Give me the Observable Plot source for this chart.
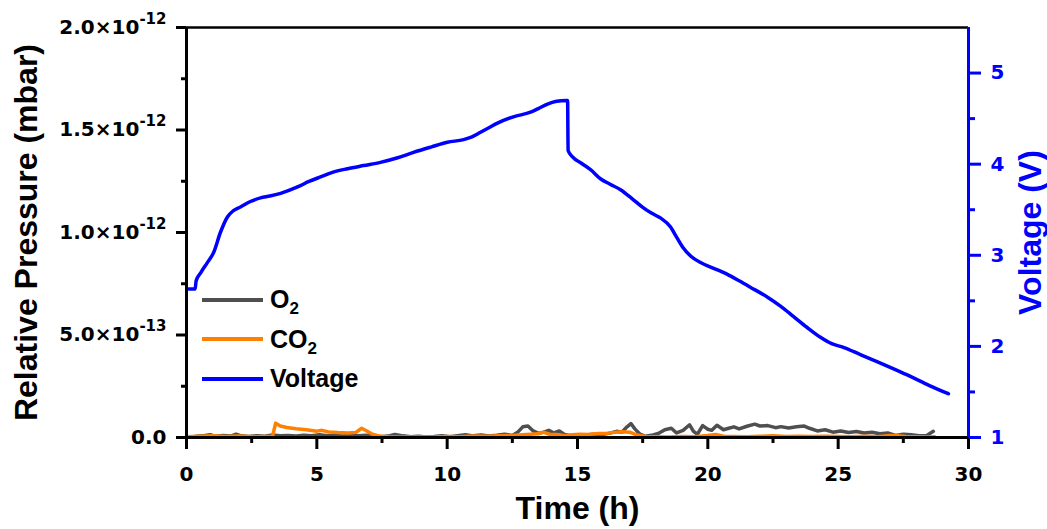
<!DOCTYPE html>
<html>
<head>
<meta charset="utf-8">
<script src="https://cdn.jsdelivr.net/npm/d3@7"></script>
<script src="https://cdn.jsdelivr.net/npm/@observablehq/plot@0.6"></script>
<style>
  body { margin: 0; background: #fff; }
  #wrap { position: relative; width: 1047px; height: 529px; font-family: 'Liberation Sans', Arial, sans-serif; }
  #legend { position: absolute; left: 202px; top: 280px; }
  .row { display: flex; align-items: center; height: 39.5px; }
  .swatch { width: 61px; height: 4px; margin-right: 7px; }
  .lab { font-weight: bold; font-size: 25px; color: #000; line-height: 25px; }
  .lab sub { font-size: 17px; vertical-align: -6px; line-height: 0; }
</style>
</head>
<body>
<div id="wrap"></div>
<script>
// ---- data ----
const timeTicks = [0, 5, 10, 15, 20, 25, 30];
const timeMinor = [2.5, 7.5, 12.5, 17.5, 22.5, 27.5];
const pressureTicks = [0, 5e-13, 1e-12, 1.5e-12, 2e-12];
const pressureMinor = [2.5e-13, 7.5e-13, 1.25e-12, 1.75e-12];
const voltTicks = [1, 2, 3, 4, 5];
const voltMinor = [1.5, 2.5, 3.5, 4.5];

// [time (h), pressure in 1e-14 mbar]
const o2Series = [[0.0,0.3],[0.3,0.5],[0.6,0.8],[0.9,1.4],[1.1,0.6],[1.4,1.0],[1.7,0.7],[1.9,1.6],[2.1,0.8],[2.4,0.5],[2.7,0.9],[3.0,0.6],[3.3,1.2],[3.6,0.8],[3.9,1.0],[4.2,0.7],[4.5,1.1],[4.8,0.9],[5.1,1.3],[5.4,0.8],[5.7,1.0],[6.0,0.7],[6.3,1.2],[6.6,0.9],[6.9,1.1],[7.2,0.6],[7.5,0.4],[7.8,0.9],[8.0,1.5],[8.3,0.8],[8.6,0.4],[8.9,0.6],[9.2,0.3],[9.5,0.5],[9.8,0.8],[10.1,0.4],[10.4,0.9],[10.7,1.4],[11.0,0.8],[11.3,1.2],[11.6,0.7],[11.9,1.1],[12.2,1.6],[12.5,1.0],[12.7,2.5],[12.9,5.2],[13.1,5.6],[13.3,3.2],[13.5,2.0],[13.7,2.6],[13.9,3.5],[14.1,2.2],[14.3,3.2],[14.5,1.5],[14.7,1.0],[15.0,1.4],[15.3,1.1],[15.6,1.6],[15.9,1.3],[16.2,2.0],[16.5,3.0],[16.7,2.6],[16.9,5.2],[17.05,6.8],[17.2,4.2],[17.4,1.6],[17.6,0.6],[17.9,1.2],[18.1,2.0],[18.35,3.8],[18.6,4.5],[18.8,2.2],[19.05,3.5],[19.3,6.2],[19.45,3.0],[19.6,1.6],[19.8,5.8],[20.0,4.0],[20.15,3.5],[20.35,6.0],[20.6,3.8],[20.8,4.5],[21.0,5.2],[21.2,4.2],[21.5,5.5],[21.8,6.5],[22.0,5.6],[22.3,5.8],[22.6,4.8],[22.8,5.3],[23.1,4.6],[23.4,5.2],[23.7,5.6],[23.9,4.5],[24.2,3.2],[24.5,3.8],[24.8,2.6],[25.1,3.2],[25.4,2.4],[25.7,2.9],[26.0,2.2],[26.3,2.6],[26.6,1.8],[26.9,2.2],[27.2,1.0],[27.5,1.6],[27.8,1.3],[28.1,0.8],[28.4,1.0],[28.65,3.0]];

const co2Series = [[0.0,0.4],[0.5,0.6],[1.0,0.8],[1.5,0.5],[2.0,0.7],[2.5,0.4],[3.0,0.5],[3.3,0.6],[3.42,7.0],[3.6,5.6],[3.85,4.9],[4.2,4.3],[4.6,3.8],[5.0,3.1],[5.2,3.5],[5.45,2.7],[5.8,2.4],[6.2,2.2],[6.5,2.5],[6.72,4.5],[6.9,3.3],[7.1,1.8],[7.4,0.7],[7.8,0.3],[8.5,0.2],[9.0,0.3],[9.5,0.2],[10.0,0.5],[10.5,0.4],[11.0,0.7],[11.5,0.6],[12.0,0.8],[12.5,1.0],[12.9,1.4],[13.2,1.6],[13.5,1.8],[13.7,2.6],[13.9,1.6],[14.2,1.5],[14.5,0.9],[14.8,1.3],[15.1,1.6],[15.4,1.5],[15.8,1.9],[16.1,2.0],[16.4,2.5],[16.7,2.8],[17.0,2.6],[17.3,1.2],[17.6,0.5],[18.0,0.4],[18.5,0.3],[19.0,0.5],[19.5,0.4],[20.0,1.0],[20.3,1.5],[20.6,0.6],[21.0,0.5],[21.5,0.4],[22.0,0.6],[22.5,0.8],[23.0,0.5],[23.5,0.6],[24.0,0.5],[24.5,0.6],[25.0,0.5],[25.5,0.4],[26.0,0.6],[26.5,0.4],[27.0,1.0],[27.3,0.8],[27.6,0.5],[28.0,0.4],[28.5,0.3],[28.7,0.4]];

// [time (h), voltage (V)]
const voltageSeries = [[0.08,2.63],[0.33,2.63],[0.37,2.72],[0.55,2.81],[0.8,2.92],[1.04,3.03],[1.3,3.25],[1.57,3.42],[1.8,3.49],[2.07,3.53],[2.45,3.59],[2.84,3.63],[3.2,3.65],[3.61,3.68],[4.26,3.75],[4.7,3.81],[5.14,3.86],[5.6,3.91],[6.18,3.95],[6.8,3.985],[7.44,4.02],[8.1,4.07],[8.71,4.13],[9.4,4.19],[10.01,4.24],[10.63,4.27],[10.95,4.30],[11.28,4.35],[11.6,4.40],[11.93,4.45],[12.54,4.52],[13.2,4.57],[13.5,4.61],[13.85,4.66],[14.2,4.69],[14.56,4.70],[14.62,4.70],[14.64,4.15],[14.81,4.08],[15.15,4.01],[15.5,3.94],[15.88,3.84],[16.25,3.78],[16.65,3.72],[17.1,3.62],[17.53,3.52],[17.85,3.46],[18.18,3.41],[18.57,3.31],[18.8,3.2],[19.06,3.08],[19.35,2.99],[19.72,2.92],[20.2,2.86],[20.75,2.79],[21.2,2.72],[21.63,2.65],[22.29,2.54],[22.8,2.44],[23.28,2.33],[23.8,2.21],[24.32,2.10],[24.75,2.03],[25.2,1.99],[25.85,1.91],[26.51,1.83],[27.15,1.75],[27.77,1.67],[28.5,1.57],[29.23,1.48]];

const seriesNames = ["O", "CO", "Voltage"];
const xTitle = "Time (h)";
const yTitle = "Relative Pressure (mbar)";
const y2Title = "Voltage (V)";

// ---- styling / scales ----
const gray = "#4f4f4f", orange = "#FF8000", blue = "#0000FF";
const pMax = 2e-12, vMin = 1, vMax = 5.5;
const vToP = v => (v - vMin) / (vMax - vMin) * pMax;
const pToV = p => vMin + p / pMax * (vMax - vMin);
const fmtP = p => {
  if (p === 0) return "0.0";
  const e = Math.floor(Math.log10(p) + 1e-9);
  const m = p / Math.pow(10, e);
  return m.toFixed(1) + "×10^" + e;
};
const font = "'Liberation Sans', Arial, sans-serif";
const tickFont = "'DejaVu Sans', 'Liberation Sans', sans-serif";

const chart = Plot.plot({
  width: 1047, height: 529,
  marginLeft: 186, marginRight: 79, marginTop: 27, marginBottom: 92,
  style: {fontFamily: font, background: "white", overflow: "visible"},
  x: {domain: [0, 30]},
  y: {domain: [0, pMax]},
  marks: [
    Plot.line(o2Series, {x: d => d[0], y: d => d[1] * 1e-14, stroke: gray, strokeWidth: 3.5}),
    Plot.line(co2Series, {x: d => d[0], y: d => d[1] * 1e-14, stroke: orange, strokeWidth: 3.5}),
    Plot.line(voltageSeries, {x: d => d[0], y: d => vToP(d[1]), stroke: blue, strokeWidth: 3.5, curve: "monotone-x"}),
    Plot.axisX({ticks: timeTicks, tickSize: 12, tickPadding: 17, tickFormat: d3.format("d"), fontSize: 20, fontWeight: "bold", fontFamily: tickFont, strokeWidth: 3, label: null, fill: "black", stroke: "black"}),
    Plot.axisX({ticks: timeMinor, tickSize: 6, tickFormat: () => "", strokeWidth: 3, label: null, stroke: "black"}),
    Plot.axisY({ticks: pressureTicks, tickSize: 10, tickPadding: 10, tickFormat: fmtP, fontSize: 20, fontWeight: "bold", fontFamily: tickFont, strokeWidth: 3, label: null, fill: "black", stroke: "black"}),
    Plot.axisY({ticks: pressureMinor, tickSize: 5, tickFormat: () => "", strokeWidth: 3, label: null, stroke: "black"}),
    Plot.axisY({anchor: "right", ticks: voltTicks.map(vToP), tickSize: 12, tickPadding: 10, tickFormat: p => String(Math.round(pToV(p))), fontSize: 20, fontWeight: "bold", fontFamily: tickFont, strokeWidth: 3, label: null, fill: blue, stroke: blue}),
    Plot.axisY({anchor: "right", ticks: voltMinor.map(vToP), tickSize: 6, tickFormat: () => "", strokeWidth: 3, label: null, stroke: blue}),
    Plot.ruleY([0], {stroke: "black", strokeWidth: 3}),
    Plot.ruleY([pMax], {stroke: "black", strokeWidth: 2.5}),
    Plot.ruleX([0], {stroke: "black", strokeWidth: 3}),
    Plot.ruleX([30], {stroke: blue, strokeWidth: 3}),
    Plot.text([xTitle], {text: d => d, frameAnchor: "bottom", dy: 81, fontSize: 32, fontWeight: "bold", fill: "black"}),
    Plot.text([yTitle], {text: d => d, frameAnchor: "left", textAnchor: "middle", dx: -160, rotate: -90, fontSize: 32, fontWeight: "bold", fill: "black"}),
    Plot.text([y2Title], {text: d => d, frameAnchor: "right", textAnchor: "middle", dx: 62, rotate: -90, fontSize: 32, fontWeight: "bold", fill: blue})
  ]
});

// superscript exponents in tick labels
d3.select(chart).selectAll("text").each(function() {
  const s = this.textContent;
  if (s.includes("^")) {
    const [base, exp] = s.split("^");
    const t = d3.select(this);
    t.text(base);
    t.append("tspan").attr("dy", -10).attr("font-size", "15px").text(exp);
  }
});

const wrap = document.getElementById("wrap");
wrap.appendChild(chart);

// legend
const legend = document.createElement("div");
legend.id = "legend";
const colors = [gray, orange, blue];
const subs = ["2", "2", ""];
seriesNames.forEach((n, i) => {
  const row = document.createElement("div");
  row.className = "row";
  const sw = document.createElement("span");
  sw.className = "swatch";
  sw.style.background = colors[i];
  const lab = document.createElement("span");
  lab.className = "lab";
  lab.textContent = n;
  if (subs[i]) {
    const sb = document.createElement("sub");
    sb.textContent = subs[i];
    lab.appendChild(sb);
  }
  row.appendChild(sw);
  row.appendChild(lab);
  legend.appendChild(row);
});
wrap.appendChild(legend);
</script>
</body>
</html>
